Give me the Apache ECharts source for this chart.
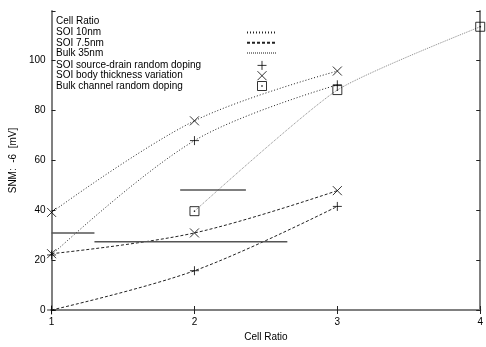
<!DOCTYPE html>
<html>
<head>
<meta charset="utf-8">
<script src="https://cdn.jsdelivr.net/npm/echarts@6/dist/echarts.min.js"></script>
<style>
  html, body { margin: 0; padding: 0; background: #fff; }
  #chart { width: 486px; height: 347px; }
</style>
</head>
<body>
<div id="chart"></div>
<script>
// data
var cellRatio = [1, 2, 3]
var soi10Body = [39, 75.6, 95.5]
var soi10SD = [22, 67.7, 90]
var soi75Body = [22.5, 30.8, 47.7]
var soi75SD = [0, 15.7, 41.4]
var bulkRatio = [2, 3, 4]
var bulkChannel = [39.5, 87.9, 113.2]
// horizontal solid bars: [x start, x end, y]
var rangeBars = [[1, 1.3, 30.8], [1.3, 2.65, 27.3], [1.9, 2.36, 48]]

var yTicks = [0, 20, 40, 60, 80, 100]
var lineNames = ['SOI 10nm', 'SOI 7.5nm', 'Bulk 35nm']
var markNames = ['SOI source-drain random doping', 'SOI body thickness variation', 'Bulk channel random doping']

function pairs(xs, ys) {
  var out = []
  for (var i = 0; i < xs.length; i++) out.push([xs[i], ys[i]])
  return out
}

var plusPath = 'path://M5,0L5,10M0,5L10,5'
var crossPath = 'path://M0,0L10,10M10,0L0,10'
var boxPath = 'path://M0,0L10,0L10,10L0,10Z M4.6,4.6L5.4,4.6L5.4,5.4L4.6,5.4Z'

var font = 'Liberation Sans'
var dom = document.getElementById('chart')
var myChart = echarts.init(dom)

// 曲线
function curve(name, xs, ys, color, type, smooth) {
  return {
    name: name,
    type: 'line',
    smooth: smooth,
    symbol: 'none',
    data: pairs(xs, ys),
    lineStyle: { color: color, width: 1, type: type },
    itemStyle: { color: color },
    z: 2
  }
}

// 标记
function marks(name, path, pts) {
  return {
    name: name,
    type: 'scatter',
    symbol: path,
    symbolSize: 9,
    symbolKeepAspect: true,
    data: pts,
    itemStyle: { color: 'none', borderColor: '#000', borderWidth: 1 },
    z: 5
  }
}

var series = [
  curve(lineNames[0], cellRatio, soi10Body, '#222', [1, 2], 0.35),
  curve(lineNames[0], cellRatio, soi10SD, '#222', [1, 2], 0.35),
  curve(lineNames[1], cellRatio, soi75Body, '#222', [3, 2], 0.35),
  curve(lineNames[1], cellRatio, soi75SD, '#222', [3, 2], 0.35),
  curve(lineNames[2], bulkRatio, bulkChannel, '#888', [1, 1], 0.2),
  marks(markNames[0], plusPath, pairs(cellRatio, soi10SD).concat(pairs(cellRatio, soi75SD))),
  marks(markNames[1], crossPath, pairs(cellRatio, soi10Body).concat(pairs(cellRatio, soi75Body))),
  marks(markNames[2], boxPath, pairs(bulkRatio, bulkChannel))
]

for (var k = 0; k < rangeBars.length; k++) {
  var b = rangeBars[k]
  series.push({
    name: 'range' + k,
    type: 'line',
    symbol: 'none',
    data: [[b[0], b[2]], [b[1], b[2]]],
    lineStyle: { color: '#555', width: 1.5 },
    z: 3
  })
}

// 图例: one legend per row, text left, sample on the right
var legendNames = lineNames.concat(markNames)
var legends = []
for (var i = 0; i < legendNames.length; i++) {
  var isLine = i < lineNames.length
  legends.push({
    orient: 'vertical',
    left: 56,
    top: 27.5 + i * 10.3,
    padding: 0,
    itemWidth: 30,
    itemHeight: 9,
    align: 'right',
    selectedMode: false,
    data: [isLine
      ? { name: legendNames[i], itemStyle: { opacity: 0 } }
      : { name: legendNames[i], itemStyle: { color: 'none', borderColor: '#000', borderWidth: 1 } }],
    formatter: function (name) { return '{a|' + name + '}' },
    textStyle: {
      fontFamily: font, fontSize: 10, color: '#000', padding: 0,
      rich: { a: { fontFamily: font, fontSize: 10, color: '#000', width: 186, align: 'left', lineHeight: 10 } }
    }
  })
}

var axisLine = { show: true, lineStyle: { color: '#808080', width: 2 } }
var axisTick = { show: true, inside: true, length: 4, lineStyle: { color: '#222', width: 1 } }

var option = {
  animation: false,
  backgroundColor: '#fff',
  textStyle: { fontFamily: font },
  title: {
    text: 'Cell Ratio',
    left: 56,
    top: 16,
    padding: 0,
    textStyle: { fontFamily: font, fontSize: 10, fontWeight: 'normal', color: '#000' }
  },
  legend: legends,
  grid: { left: 50, right: 4, top: 11, bottom: 33, containLabel: false },
  xAxis: [{
    type: 'value',
    min: 1, max: 4, interval: 1,
    name: 'Cell Ratio',
    nameLocation: 'middle',
    nameGap: 22,
    nameTextStyle: { fontFamily: font, fontSize: 10, color: '#000' },
    axisLine: axisLine, axisTick: axisTick,
    axisLabel: { fontFamily: font, fontSize: 10, color: '#000', margin: 7 },
    splitLine: { show: false }
  }, {
    type: 'value', position: 'top',
    min: 1, max: 4, interval: 1,
    axisLine: axisLine, axisTick: axisTick,
    axisLabel: { show: false }, splitLine: { show: false }
  }],
  yAxis: [{
    type: 'value',
    min: 0, max: 119.5, interval: 20,
    name: 'SNM:  -6  [mV]',
    nameLocation: 'middle',
    nameRotate: 90,
    nameGap: 33,
    nameTextStyle: { fontFamily: font, fontSize: 10, color: '#000' },
    axisLine: axisLine, axisTick: axisTick,
    axisLabel: {
      fontFamily: font, fontSize: 10, color: '#000', margin: 6,
      formatter: function (v) { return yTicks.indexOf(v) >= 0 ? String(v) : '' }
    },
    splitLine: { show: false }
  }, {
    type: 'value', position: 'right',
    min: 0, max: 119.5, interval: 20,
    axisLine: axisLine, axisTick: axisTick,
    axisLabel: { show: false }, splitLine: { show: false }
  }],
  series: series
}

myChart.setOption(option)
</script>
</body>
</html>
